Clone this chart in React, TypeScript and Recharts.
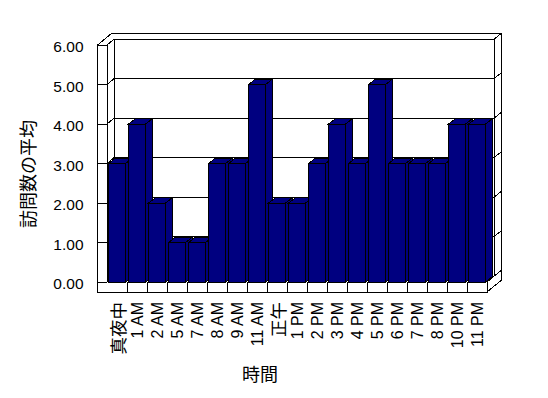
import { BarChart, Bar, XAxis, YAxis, CartesianGrid } from 'recharts';

// Average visits per hour of day (Excel-style 3D column chart)
const hours = [
  '真夜中', '1 AM', '2 AM', '5 AM', '7 AM', '8 AM', '9 AM', '11 AM', '正午', '1 PM',
  '2 PM', '3 PM', '4 PM', '5 PM', '6 PM', '7 PM', '8 PM', '10 PM', '11 PM',
];
const avgVisits = [3, 4, 2, 1, 1, 3, 3, 5, 2, 2, 3, 4, 3, 5, 3, 3, 3, 4, 4];
const yTicks = [0, 1, 2, 3, 4, 5, 6];

const data = hours.map((hour, i) => ({ hour, visits: avgVisits[i] }));

const BAR_COLOR = '#000080';
const FONT = "'Liberation Sans', Arial, 'Noto Sans CJK JP', sans-serif";
const CJK_FONT = "'Noto Sans CJK JP', sans-serif";

// depth of the walls and of the bars
const DX = 7.3;
const DY = -6;
const BAR_DX = 7;
const BAR_DY = -5.5;
const WALL_W = 9.5;
const FLOOR_H = 10;

function seg(ax: number, ay: number, bx: number, by: number) {
  return `M${ax},${ay}L${bx},${by}`;
}

// each horizontal grid line is drawn across the left wall and the back wall;
// the top and bottom ones also draw the rest of the box
function FrameLine(p: any) {
  const { x1: L, x2: R, y1: yv } = p;
  const pts: number[] = p.horizontalPoints || [yv];
  const top = typeof p.y === 'number' ? p.y : Math.min(...pts);
  const bottom = typeof p.height === 'number' ? top + p.height : Math.max(...pts);
  let d =
    seg(L - WALL_W, yv, L, yv) +
    seg(L, yv, L + DX, yv + DY) +
    seg(L + DX, yv + DY, R + DX, yv + DY) +
    seg(R + DX, yv + DY, R + 2 * DX, yv + 2 * DY);

  if (Math.abs(yv - top) < 0.5) {
    d +=
      seg(L - WALL_W, top, L - WALL_W + 2 * DX, top + 2 * DY) +
      seg(L - WALL_W + 2 * DX, top + 2 * DY, R + 2 * DX, top + 2 * DY) +
      seg(R + 2 * DX, top + 2 * DY, R + 2 * DX, bottom + FLOOR_H + 2 * DY) +
      seg(L + DX, top + DY, L + DX, bottom + DY) +
      seg(R + DX, top + DY, R + DX, bottom + DY) +
      seg(L, top, L, bottom);
  }
  if (Math.abs(yv - bottom) < 0.5) {
    d += `M${L - WALL_W},${top}L${L - WALL_W},${bottom + FLOOR_H}L${R},${bottom + FLOOR_H}L${R},${bottom}`;
    const step = (R - L) / hours.length;
    for (let i = 1; i < hours.length; i++) {
      const x = L + i * step;
      d += seg(x, bottom, x, bottom + FLOOR_H);
    }
    d +=
      seg(R, bottom, R + DX, bottom + DY) +
      seg(R, bottom + FLOOR_H, R + 2 * DX, bottom + FLOOR_H + 2 * DY);
  }
  return <path key={p.key} d={d} stroke="#000" strokeWidth={1} fill="none" shapeRendering="crispEdges" />;
}

function Bar3D(props: any) {
  const { x, y, width, height } = props;
  if (!height) return null;
  return (
    <g stroke="#000" strokeWidth={1} fill={BAR_COLOR} shapeRendering="crispEdges">
      <path d={`M${x + width},${y}L${x + width + BAR_DX},${y + BAR_DY}L${x + width + BAR_DX},${y + height + BAR_DY}L${x + width},${y + height}Z`} />
      <path d={`M${x},${y}L${x + BAR_DX},${y + BAR_DY}L${x + width + BAR_DX},${y + BAR_DY}L${x + width},${y}Z`} />
      <rect x={x} y={y} width={width} height={height} />
    </g>
  );
}

function HourTick({ x, y, payload }: any) {
  const label = String(payload.value);
  const cjk = /[^\x00-\x7F]/.test(label);
  return (
    <text
      x={x}
      y={y}
      transform={`rotate(-90, ${x}, ${y})`}
      textAnchor="end"
      dominantBaseline="central"
      fontSize={cjk ? 17.5 : 16}
      fontFamily={cjk ? CJK_FONT : FONT}
      fill="#000"
    >
      {label}
    </text>
  );
}

function ValueTick({ x, y, payload }: any) {
  return (
    <text x={x} y={y + 1.5} textAnchor="end" dominantBaseline="central" fontSize={15.5} fontFamily={FONT} fill="#000">
      {Number(payload.value).toFixed(2)}
    </text>
  );
}

export default function App() {
  return (
    <div style={{ position: 'absolute', left: 0, top: 0, width: 548, height: 398, background: '#fff' }}>
      <BarChart
        width={548}
        height={398}
        data={data}
        margin={{ top: 45, right: 61, bottom: 0, left: 0 }}
        barCategoryGap="8%"
      >
        <CartesianGrid horizontal={FrameLine} vertical={false} />
        <XAxis
          dataKey="hour"
          height={116}
          interval={0}
          axisLine={false}
          tickLine={false}
          tickSize={0}
          tickMargin={20}
          tick={<HourTick />}
          label={{ value: '時間', position: 'insideBottom', offset: 17, dx: -37, fontSize: 18, fill: '#000', fontFamily: CJK_FONT }}
        />
        <YAxis
          width={107}
          domain={[0, 6]}
          ticks={yTicks}
          interval={0}
          axisLine={false}
          tickLine={false}
          tickSize={0}
          tickMargin={23.5}
          tick={<ValueTick />}
          label={{ value: '訪問数の平均', angle: -90, position: 'center', dx: -24.5, dy: 10.5, fontSize: 18, fill: '#000', fontFamily: CJK_FONT }}
        />
        <Bar dataKey="visits" fill={BAR_COLOR} shape={<Bar3D />} isAnimationActive={false} />
      </BarChart>
    </div>
  );
}
